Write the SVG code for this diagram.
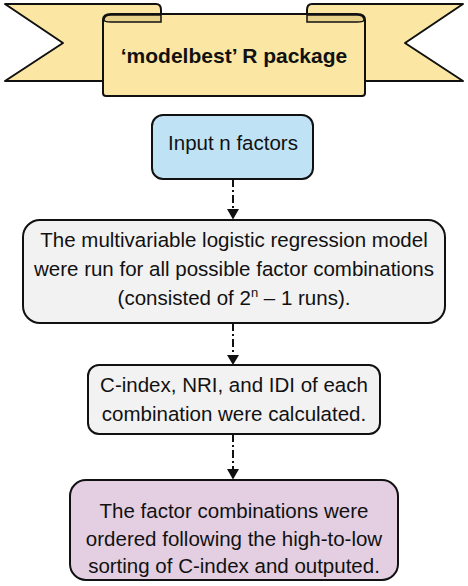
<svg xmlns="http://www.w3.org/2000/svg" width="468" height="586" viewBox="0 0 468 586">
<defs>
<style>
.t{font-family:"Liberation Sans",Arial,sans-serif;font-size:20.5px;fill:#111;text-anchor:middle}
.b{font-family:"Liberation Sans",Arial,sans-serif;font-size:21px;font-weight:bold;fill:#111;text-anchor:middle}
.box{stroke:#111;stroke-width:2}
.rib{fill:#fbe7a3;stroke:#111;stroke-width:2;stroke-linejoin:round}
.curl{fill:#e8d189;stroke:#111;stroke-width:1.5}
.con{stroke:#111;stroke-width:2;fill:none;stroke-dasharray:8 3 2 3}
</style>
<marker id="ah" viewBox="0 0 12 10" refX="6" refY="10" markerWidth="12" markerHeight="10" markerUnits="userSpaceOnUse" orient="auto-start-reverse">
<path d="M0,0 L12,0 L6,10 Z" fill="#111"/>
</marker>
</defs>
<rect width="468" height="586" fill="#fff"/>
<g id="banner">
<path class="rib" d="M5,4 L156,4 Q161,4 161,10 L161,81 L5,81 L63,43 Z"/>
<path class="rib" d="M463,4 L312,4 Q307,4 307,10 L307,81 L463,81 L405,43 Z"/>
<path class="rib" d="M103,93 L103,20 Q103,14 111,14 L357,14 Q365,14 365,20 L365,93 Q365,96 362,96 L106,96 Q103,96 103,93 Z"/>
<path class="curl" d="M104,20 Q104,15 111,15 L161,15 L161,22 L111,22 Q104,22 104,20 Z"/>
<path class="curl" d="M364,20 Q364,15 357,15 L307,15 L307,22 L357,22 Q364,22 364,20 Z"/>
<text class="b" x="234" y="63">‘modelbest’ R package</text>
</g>
<g id="connectors">
<line class="con" x1="233" y1="179" x2="233" y2="209"/>
<line class="con" x1="233" y1="323" x2="233" y2="355"/>
<line class="con" x1="233" y1="434" x2="233" y2="469"/>
<path d="M227,209 L239,209 L233,219.5 Z" fill="#111"/>
<path d="M227,355 L239,355 L233,365 Z" fill="#111"/>
<path d="M227,469 L239,469 L233,479.5 Z" fill="#111"/>
</g>
<g id="input">
<rect class="box" x="152" y="115" width="161" height="64" rx="11" fill="#bfe3f5"/>
<text class="t" x="233" y="150">Input n factors</text>
</g>
<g id="model">
<rect class="box" x="23" y="220" width="422" height="103" rx="17" fill="#f2f2f2"/>
<text class="t" x="234" y="246.5">The multivariable logistic regression model</text>
<text class="t" x="234" y="276">were run for all possible factor combinations</text>
<text class="t" x="234" y="305">(consisted of 2<tspan font-size="13" dy="-8">n</tspan><tspan dy="8"> – 1 runs).</tspan></text>
</g>
<g id="metrics">
<rect class="box" x="88" y="365" width="292" height="69" rx="11" fill="#f2f2f2"/>
<text class="t" x="234" y="392">C-index, NRI, and IDI of each</text>
<text class="t" x="234" y="421">combination were calculated.</text>
</g>
<g id="output">
<rect class="box" x="70" y="480" width="328" height="100" rx="16" fill="#e3cfe1"/>
<text class="t" x="234" y="518">The factor combinations were</text>
<text class="t" x="234" y="546">ordered following the high-to-low</text>
<text class="t" x="234" y="573">sorting of C-index and outputed.</text>
</g>
</svg>
